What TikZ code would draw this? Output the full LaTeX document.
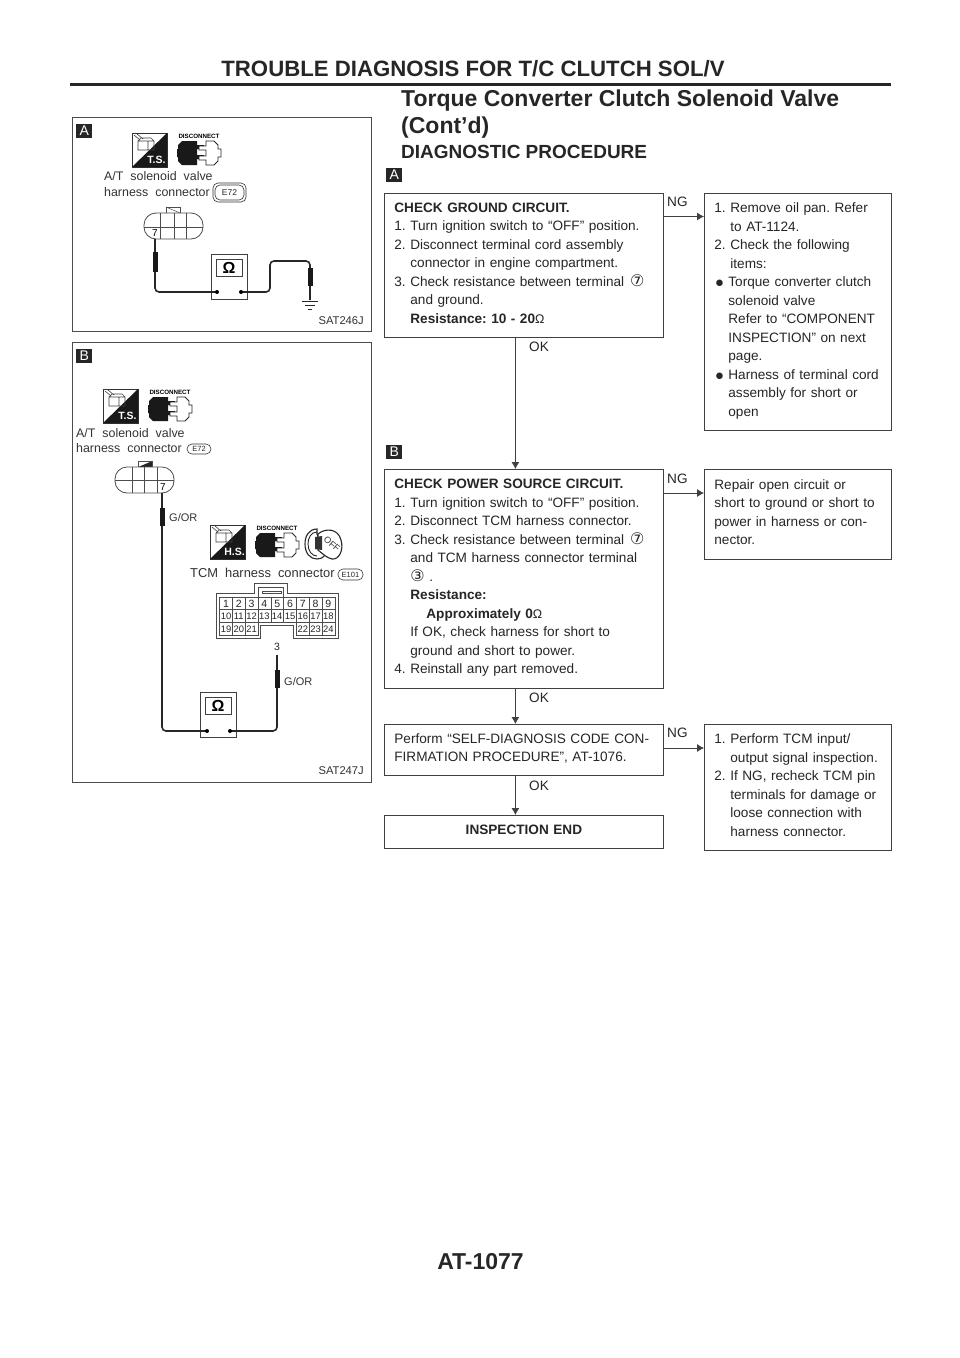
\documentclass[tikz,border=0pt]{standalone}
\usepackage{fontspec}
\setmainfont{Liberation Sans}
\newfontfamily\symfont{DejaVu Sans}
\usetikzlibrary{arrows.meta}
\newcommand{\circnum}[1]{{\symfont\fontsize{16}{18.5}\selectfont #1}}
\newcommand{\hang}{\hspace*{16pt}}
\newcommand{\ohm}{{\normalfont\fontsize{12.5}{18.5}\selectfont Ω}}
\newcommand{\dn}{\rule[-5pt]{0pt}{5pt}}
\newcommand{\bul}{\makebox[14pt][l]{\hspace*{1.5pt}\raisebox{0.6pt}{\symfont\fontsize{8.5}{18.5}\selectfont ●}}}
\newcommand{\bi}{\hspace*{14pt}}
\newcommand{\ws}{\hspace{7pt}}
\tikzset{
 x=1pt,y=-1pt,
 panel/.style={draw=black!70,line width=0.8pt,fill=white},
 flowbox/.style={draw=black!75,line width=0.8pt,anchor=north west,align=left,inner xsep=10pt,inner ysep=0pt,
   font=\frenchspacing\fontsize{13.6}{18.5}\selectfont,text=black!85},
 lbl/.style={font=\fontsize{13.6}{14}\selectfont,text=black!85,inner sep=0pt},
 flow/.style={draw=black!75,line width=0.8pt},
 flowarrow/.style={flow,-{Latex[length=7pt,width=8pt]}},
 badge/.style={fill=black!85,text=white,font=\fontsize{14}{14}\selectfont,inner sep=0pt,minimum width=16pt,minimum height=13.5pt,anchor=north west},
 imgtext/.style={font=\fontsize{12.4}{13}\selectfont,text=black!80,inner sep=0pt,anchor=west},
 gor/.style={font=\fontsize{11}{12}\selectfont,text=black!80,inner sep=0pt,anchor=west},
 code/.style={font=\fontsize{11.2}{12}\selectfont,text=black!80,inner sep=0pt,anchor=east},
 wire/.style={line width=1.6pt,draw=black!85,rounded corners=4pt},
 probe/.style={fill=black!90},
 conn/.style={draw=black!70,line width=0.8pt},
 cellA/.style={draw=black!70,line width=0.6pt,inner sep=0pt,minimum width=12.8pt,minimum height=12.3pt,font=\fontsize{10.5}{11}\selectfont,text=black!85},
 cellB/.style={draw=black!70,line width=0.6pt,inner sep=0pt,minimum width=12.8pt,minimum height=12.8pt,font=\fontsize{9.4}{10}\selectfont,text=black!85},
 titleA/.style={font=\bfseries\fontsize{22.2}{23}\selectfont,text=black!85,inner sep=0pt},
}
\newcommand{\hsicon}[4]{\begin{scope}[shift={(#1,#2)}]
 \draw[black!80,line width=0.7pt,fill=white] (0,0) rectangle (35,34);
 \fill[black!90] (35,0) -- (35,34) -- (0,34) -- cycle;
 \draw[black!75,line width=0.6pt] (6,8) rectangle (16,17) (16,8) rectangle (22,17) (6,8) -- (9,5) -- (19,5) -- (22,8) (2,2) -- (8,7) (5,1) -- (11,6);
 \node[inner sep=0pt,text=white,font=\bfseries\fontsize{10.5}{11}\selectfont] (#4) at (24.5,27) {#3};
\end{scope}}
\newcommand{\discicon}[3]{\begin{scope}[shift={(#1,#2)}]
 \node[inner sep=0pt,text=black,font=\bfseries\fontsize{6.2}{6}\selectfont] (#3) at (22,0) {DISCONNECT};
 \fill[black!90] (5,5) -- (20,5) -- (20,9) -- (27,9) -- (27,13) -- (20,13) -- (20,19) -- (27,19) -- (27,23) -- (20,23) -- (20,29) -- (5,29) -- (1,25) -- (1,21) -- (0,21) -- (0,13) -- (1,13) -- (1,9) -- cycle;
 \draw[black!85,line width=0.9pt,fill=white] (29,5) -- (37,5) -- (41,9) -- (41,13) -- (44,13) -- (44,21) -- (41,21) -- (41,25) -- (37,29) -- (29,29) -- (29,24) -- (22,24) -- (22,20) -- (29,20) -- (29,14) -- (22,14) -- (22,10) -- (29,10) -- cycle;
\end{scope}}
\newcommand{\meter}[3]{\begin{scope}[shift={(#1,#2)}]
 \draw[black!75,line width=0.9pt,fill=white] (0,0) rectangle (36,45);
 \draw[black!75,line width=0.9pt] (5,5) rectangle (31,22);
 \node[inner sep=0pt,font=\bfseries\fontsize{16}{16}\selectfont] (#3) at (18,13.5) {Ω};
\end{scope}}
\newcommand{\ovalbadge}[7]{% x1 y1 x2 y2 text name fontsize
 \draw[black!80,line width=0.6pt,rounded corners=5pt] (#1,#2) rectangle (#3,#4);
 \node[inner sep=0pt,font=\fontsize{#7}{#7}\selectfont,text=black!85] (#6) at ({(#1+#3)/2},{(#2+#4)/2}) {#5};}
\newcommand{\probe}[4]{\fill[probe] (#1,#2) rectangle (#3,#4);}
\newcommand{\ground}[2]{\draw[black!85,line width=1pt] (#1-8,#2) -- (#1+8,#2) (#1-5,#2+4) -- (#1+5,#2+4) (#1-2,#2+8) -- (#1+2,#2+8);}
\begin{document}
\begin{tikzpicture}
\useasboundingbox (0,0) rectangle (960,1358);
\fill[white] (0,0) rectangle (960,1358);
% Header
\node[titleA] (hdr) at (473,69) {TROUBLE DIAGNOSIS FOR T/C CLUTCH SOL/V};
\coordinate (ruleL) at (70,84.5); \coordinate (ruleR) at (891,84.5);
\draw[black!85,line width=3.5pt] (ruleL) -- (ruleR);
\node[anchor=west,inner sep=0pt,font=\bfseries\fontsize{23}{24}\selectfont,text=black!85] (t1) at (401,100.5) {Torque Converter Clutch Solenoid Valve};
\node[anchor=west,inner sep=0pt,font=\bfseries\fontsize{23}{24}\selectfont,text=black!85] (t2) at (401,127.5) {(Cont’d)};
\node[anchor=west,inner sep=0pt,font=\bfseries\fontsize{19}{19}\selectfont,text=black!85] (t3) at (401,152) {DIAGNOSTIC PROCEDURE};
\node[inner sep=0pt,font=\bfseries\fontsize{23}{23}\selectfont,text=black!85] (foot) at (480.5,1262) {AT-1077};
% Panel A
\node[panel,anchor=north west,minimum width=299pt,minimum height=214pt,inner sep=0pt] (pa) at (72,117) {};
\node[badge] (ba) at (76,124) {A};
\hsicon{132}{133}{T.S.}{tsa}
\discicon{177}{136}{da}
\node[imgtext] (a1) at (104,176) {A/T\ws solenoid\ws valve};
\node[imgtext] (a2) at (104,192) {harness\ws connector};
\ovalbadge{213}{183}{246}{202}{}{ea0}{7}
\ovalbadge{215}{185}{244}{200}{E72}{ea}{8.5}
\begin{scope}[shift={(144,213)}]
 \draw[conn,fill=white] (22,-6) rectangle (36,0);
 \draw[black!70,line width=0.5pt] (22,-6) -- (36,0);
 \draw[conn,rounded corners=12pt,fill=white] (0,0) rectangle (59,26);
 \draw[conn] (16,0) -- (16,26) (30,0) -- (30,26) (42,0) -- (42,26) (0,14) -- (59,14);
 \node[inner sep=0pt,font=\fontsize{10}{10}\selectfont,fill=white] (a7) at (11,20) {7};
\end{scope}
\meter{211}{254}{oa}
\coordinate (aw0) at (155,239);
\coordinate (aw1) at (217,292);
\coordinate (aw2) at (241,292);
\coordinate (aw3) at (310,300);
\draw[wire] (aw0) -- (155,292) -- (aw1);
\draw[wire] (aw2) -- (270,292) -- (270,261) -- (310,261) -- (aw3);
\fill (aw1) circle (2pt) (aw2) circle (2pt);
\probe{153}{252}{158}{272}
\probe{308}{268}{313}{286}
\ground{310}{301}
\node[code] (sa) at (364,321) {SAT246J};
% Panel B
\node[panel,anchor=north west,minimum width=299pt,minimum height=440pt,inner sep=0pt] (pb) at (72,342) {};
\node[badge] (bb) at (76,349) {B};
\hsicon{103}{389}{T.S.}{tsb}
\discicon{148}{392}{db}
\node[imgtext] (b1) at (76,433) {A/T\ws solenoid\ws valve};
\node[imgtext] (b2) at (76,448) {harness\ws connector};
\ovalbadge{187}{444}{211}{454}{E72}{eb}{7.5}
\begin{scope}[shift={(115,467)}]
 \draw[conn,fill=black!85] (23,-6) rectangle (37,0);
 \fill[white] (23,-6) -- (37,-6) -- (23,0) -- cycle;
 \draw[conn] (23,-6) rectangle (37,0);
 \draw[conn,rounded corners=12pt,fill=white] (0,0) rectangle (59,26);
 \draw[conn] (17,0) -- (17,26) (29,0) -- (29,26) (42,0) -- (42,26) (0,13) -- (59,13);
 \node[inner sep=0pt,font=\fontsize{10}{10}\selectfont,fill=white] (b7) at (48,20) {7};
\end{scope}
\hsicon{210}{525}{H.S.}{hsb}
\discicon{255}{528}{dc}
% key
\begin{scope}[shift={(305,528)}]
 \draw[black!85,line width=1.1pt,fill=white] (12,1) .. controls (4,1) and (0,8) .. (0,16) .. controls (0,25) and (5,31) .. (12,31) .. controls (18,31) and (20,27) .. (21,25) -- (12,6) -- cycle;
 \draw[black!85,line width=0.9pt] (12,4) .. controls (6,4) and (3,10) .. (3,16) .. controls (3,23) and (7,28) .. (12,28);
 \draw[black!85,line width=1.1pt,fill=white] (13,6) .. controls (20,0) and (33,0) .. (36,12) .. controls (39,22) and (34,32) .. (27,31) .. controls (22,30) and (18,26) .. (13,22) -- cycle;
 \fill[black!80] (10,9) -- (17,8) -- (17,22) -- (10,21) -- cycle;
 \node[inner sep=0pt,rotate=-40,font=\fontsize{9}{9}\selectfont,text=black!80] (koff) at (27,16) {OFF};
\end{scope}
\node[imgtext,font=\fontsize{12.9}{13}\selectfont] (c1) at (190,573) {TCM\ws harness\ws connector};
\ovalbadge{338}{569}{363}{580}{E101}{ec}{7.5}
% TCM connector
\coordinate (tc) at (216,593);
\begin{scope}[shift={(tc)}]
 \draw[conn,fill=white] (0,0) -- (38,0) -- (38,-10) -- (71,-10) -- (71,0) -- (122,0) -- (122,45) -- (77,45) -- (77,32) -- (44,32) -- (44,45) -- (0,45) -- cycle;
 \draw[conn] (42,-6) -- (67,-6) -- (67,4) (42,-6) -- (42,4);
 \draw[black!70,line width=0.6pt] (46,-2) rectangle (65,0.5);
 \foreach \n [count=\c from 0] in {1,2,3,4,5,6,7,8,9}{
     \node[cellA] (tn\n) at ({10+12.8*\c},10.5) {\n};}
 \foreach \n [count=\c from 0] in {10,11,12,13,14,15,16,17,18}{
     \node[cellB] (tn\n) at ({10+12.8*\c},23) {\n};}
 \foreach \n [count=\c from 0] in {19,20,21}{
     \node[cellB] (tn\n) at ({10+12.8*\c},36) {\n};}
 \foreach \n [count=\c from 6] in {22,23,24}{
     \node[cellB] (tn\n) at ({10+12.8*\c},36) {\n};}
\end{scope}
\node[inner sep=0pt,font=\fontsize{10.5}{11}\selectfont,text=black!85] (n3) at (277,647) {3};
\meter{200}{692}{ob}
\coordinate (bw1) at (207,731);
\coordinate (bw2) at (230,731);
\coordinate (bw3) at (277,655);
\coordinate (bw0) at (162,493);
\draw[wire] (bw0) -- (162,731) -- (bw1);
\draw[wire] (bw3) -- (277,731) -- (bw2);
\fill (bw1) circle (2pt) (bw2) circle (2pt);
\probe{160}{508}{165}{526}
\probe{274.5}{670}{279.5}{688}
\node[gor] (g1) at (169,518) {G/OR};
\node[gor] (g2) at (284,682) {G/OR};
\node[code] (sb) at (364,771) {SAT247J};
% Flow
\node[badge] (fa) at (386,168) {A};
\node[badge] (fb) at (386,445) {B};
\node[flowbox,text width=259pt,minimum height=144pt] (A) at (384,193) {%
\textbf{CHECK GROUND CIRCUIT.}\\
1. Turn ignition switch to “OFF” position.\\
2. Disconnect terminal cord assembly\\
\hang connector in engine compartment.\\
3. Check resistance between terminal\hspace{6pt}\circnum{⑦}\\
\hang and ground.\\
\hang\textbf{Resistance: 10 - 20}\ohm\dn};
\node[flowbox,text width=167pt,minimum height=237pt] (R1) at (704,193) {%
1. Remove oil pan. Refer\\
\hang to AT-1124.\\
2. Check the following\\
\hang items:\\
\bul Torque converter clutch\\
\bi solenoid valve\\
\bi Refer to “COMPONENT\\
\bi INSPECTION” on next\\
\bi page.\\
\bul Harness of terminal cord\\
\bi assembly for short or\\
\bi open\dn};
\node[flowbox,text width=259pt,minimum height=219pt] (B) at (384,469) {%
\textbf{CHECK POWER SOURCE CIRCUIT.}\\
1. Turn ignition switch to “OFF” position.\\
2. Disconnect TCM harness connector.\\
3. Check resistance between terminal\hspace{6pt}\circnum{⑦}\\
\hang and TCM harness connector terminal\\
\hang\circnum{③} .\\
\hang\textbf{Resistance:}\\
\hang\hang\textbf{Approximately 0}\ohm\\
\hang If OK, check harness for short to\\
\hang ground and short to power.\\
4. Reinstall any part removed.\dn};
\node[flowbox,text width=167pt,minimum height=90pt] (R2) at (704,469) {%
Repair open circuit or\\
short to ground or short to\\
power in harness or con-\\
nector.\dn};
\node[flowbox,text width=259pt,minimum height=51pt] (C) at (384,724) {%
Perform “SELF-DIAGNOSIS CODE CON-\\
FIRMATION PROCEDURE”, AT-1076.\dn};
\node[flowbox,text width=167pt,minimum height=126pt] (R3) at (704,724) {%
1. Perform TCM input/\\
\hang output signal inspection.\\
2. If NG, recheck TCM pin\\
\hang terminals for damage or\\
\hang loose connection with\\
\hang harness connector.\dn};
\node[flowbox,text width=259pt,minimum height=33pt,align=center] (D) at (384,815) {\textbf{INSPECTION END}\dn};
\draw[flowarrow] ([xshift=-8.5pt]A.south) -- ([xshift=-8.5pt]B.north);
\draw[flowarrow] ([xshift=-8.5pt]B.south) -- ([xshift=-8.5pt]C.north);
\draw[flowarrow] ([xshift=-8.5pt]C.south) -- ([xshift=-8.5pt]D.north);
\draw[flowarrow] (A.east |- 0,216.5) -- (R1.west |- 0,216.5);
\draw[flowarrow] (B.east |- 0,493) -- (R2.west |- 0,493);
\draw[flowarrow] (C.east |- 0,748) -- (R3.west |- 0,748);
\node[lbl,anchor=west] (ok1) at (529,347) {OK};
\node[lbl,anchor=west] (ok2) at (529,698) {OK};
\node[lbl,anchor=west] (ok3) at (529,786) {OK};
\node[lbl,anchor=west] (ng1) at (667,202) {NG};
\node[lbl,anchor=west] (ng2) at (667,479) {NG};
\node[lbl,anchor=west] (ng3) at (667,733) {NG};
\end{tikzpicture}
\end{document}
